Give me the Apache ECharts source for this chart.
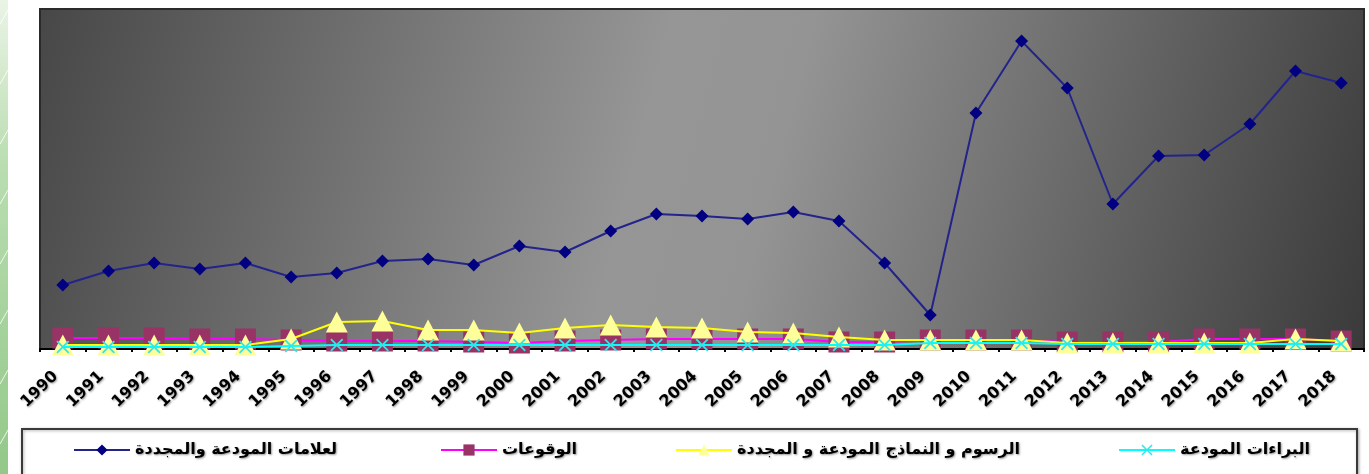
<!DOCTYPE html>
<html>
<head>
<meta charset="utf-8">
<script src="https://cdn.jsdelivr.net/npm/echarts@6/dist/echarts.min.js"></script>
<style>
html,body{margin:0;padding:0;background:#fff;}
#c{width:1369px;height:474px;}
</style>
</head>
<body>
<div id="c"></div>
<script>
const years = ['1990','1991','1992','1993','1994','1995','1996','1997','1998','1999','2000','2001','2002','2003','2004','2005','2006','2007','2008','2009','2010','2011','2012','2013','2014','2015','2016','2017','2018'];
const seriesNames = ['لعلامات المودعة والمجددة','الوقوعات','الرسوم و النماذج المودعة و المجددة','البراءات المودعة'];
const marks = [640,780,860,800,860,720,760,880,900,840,1030,970,1180,1350,1330,1300,1370,1280,860,340,2360,3080,2610,1450,1930,1940,2250,2780,2660];
const events = [110,110,110,100,100,90,80,80,80,70,60,80,90,100,100,100,100,70,70,90,90,90,70,70,70,100,100,100,80];
const designs = [40,40,40,40,40,100,270,280,190,190,160,210,240,220,210,170,160,120,90,90,90,90,60,60,60,60,60,100,80];
const patents = [20,20,20,20,20,30,40,40,40,40,40,40,40,40,40,40,40,40,40,60,60,60,50,50,50,50,50,50,50];

const chart = echarts.init(document.getElementById('c'), null, {renderer:'canvas'});
const xShape = 'path://M0,1 L1,0 L5,4 L9,0 L10,1 L6,5 L10,9 L9,10 L5,6 L1,10 L0,9 L4,5 Z';
const legendText = {color:'#000', fontFamily:'DejaVu Sans', fontWeight:'bold', fontSize:16, textShadowColor:'rgba(0,0,0,0.4)', textShadowBlur:2, textShadowOffsetX:1, textShadowOffsetY:1};
function legend(name, left){
  return {data:[name], left:left, top:442, padding:0, itemWidth:56, itemHeight:14, itemGap:0, textStyle:legendText};
}
const stripLines = [];
for (let i = 0; i < 8; i++) {
  const y0 = 10 + i * 60;
  stripLines.push({type:'line', shape:{x1:0, y1:y0 + 14, x2:8, y2:y0}, style:{stroke:'rgba(255,255,255,0.8)', lineWidth:1}, z:1});
}
chart.setOption({
  backgroundColor:'#fff',
  animation:false,
  graphic:[
    {type:'rect', shape:{x:0, y:0, width:8, height:474}, style:{fill:new echarts.graphic.LinearGradient(0,0,0,1,[{offset:0,color:'#eaf4e6'},{offset:0.35,color:'#b9ddb0'},{offset:1,color:'#93c889'}])}, z:0},
    ...stripLines,
    {type:'rect', shape:{x:22, y:429, width:1335, height:60}, style:{fill:'#fff', stroke:'#3a3a3a', lineWidth:2, shadowColor:'rgba(0,0,0,0.3)', shadowBlur:3, shadowOffsetX:1, shadowOffsetY:1}, z:0}
  ],
  grid:{left:40, right:5, top:9, bottom:125, show:true, borderColor:'#2a2a2a', borderWidth:2,
    backgroundColor:new echarts.graphic.LinearGradient(0,0,1,1,[{offset:0,color:'#474747'},{offset:0.45,color:'#969696'},{offset:0.55,color:'#949494'},{offset:1,color:'#3a3a3a'}])},
  legend:[legend(seriesNames[0],73), legend(seriesNames[1],440), legend(seriesNames[2],675), legend(seriesNames[3],1118)],
  xAxis:{type:'category', data:years, boundaryGap:true,
    axisLine:{lineStyle:{color:'#000', width:2}},
    axisTick:{show:true, length:3, lineStyle:{color:'#000', width:2}},
    axisLabel:{interval:0, rotate:44, margin:18, color:'#000', fontFamily:'DejaVu Sans', fontWeight:'bold', fontSize:16,
      padding:[0,10,0,0], textShadowColor:'rgba(0,0,0,0.4)', textShadowBlur:2, textShadowOffsetX:1, textShadowOffsetY:1},
    splitLine:{show:false}},
  yAxis:{type:'value', min:0, max:3400, show:false, splitLine:{show:false}},
  series:[
    {name:seriesNames[0], type:'line', data:marks, symbol:'diamond', symbolSize:13, z:5,
      lineStyle:{color:'#23238c', width:2}, itemStyle:{color:'#000080', borderWidth:0}},
    {name:seriesNames[1], type:'line', data:events, symbol:'rect', symbolSize:21, z:2,
      lineStyle:{color:'#ff00ff', width:2}, itemStyle:{color:'#993366', borderWidth:0}},
    {name:seriesNames[2], type:'line', data:designs, symbol:'triangle', symbolSize:[22,21], z:3,
      lineStyle:{color:'#ffff00', width:2}, itemStyle:{color:'#ffff99', borderWidth:0}},
    {name:seriesNames[3], type:'line', data:patents, symbol:xShape, symbolSize:13, z:4,
      lineStyle:{color:'#00ffff', width:2}, itemStyle:{color:'#33e6e6', borderWidth:0}}
  ]
});
</script>
</body>
</html>
